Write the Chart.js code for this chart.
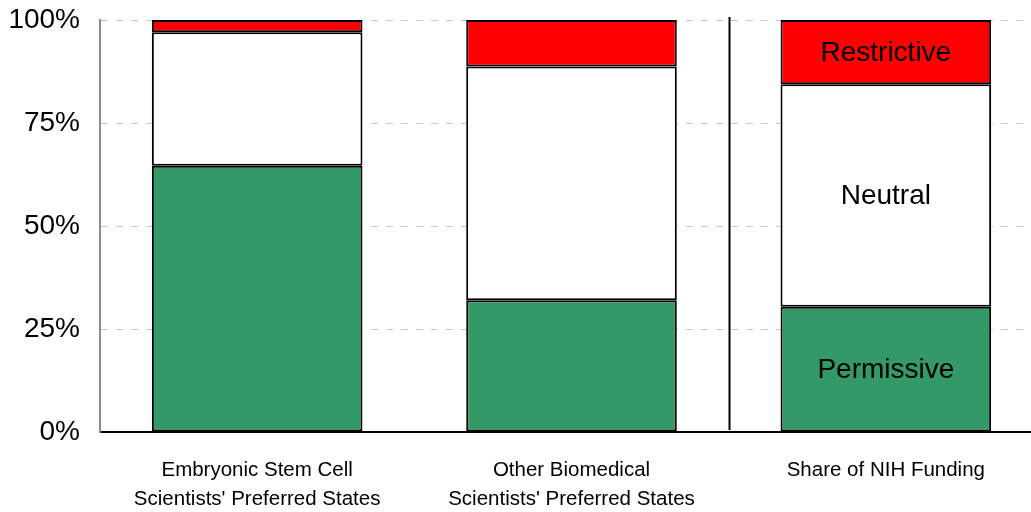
<!DOCTYPE html>
<html>
<head>
<meta charset="utf-8">
<script src="https://cdn.jsdelivr.net/npm/chart.js@4.4.1/dist/chart.umd.min.js"></script>
<style>
  html, body { margin: 0; padding: 0; background: #fff; overflow: hidden; }
  #wrap { width: 1031px; height: 512px; overflow: hidden; position: relative; }
  #box { width: 1043px; height: 512px; position: absolute; left: 0; top: 0; }
</style>
</head>
<body>
<div id="wrap">
  <div id="box"><canvas id="chart"></canvas></div>
</div>
<script>
  const categories = [
    ["Embryonic Stem Cell", "Scientists' Preferred States"],
    ["Other Biomedical", "Scientists' Preferred States"],
    ["Share of NIH Funding"]
  ];
  const permissive  = [64.6, 32.0, 30.4];
  const neutral     = [32.4, 56.7, 54.0];
  const restrictive = [3.0, 11.3, 15.6];
  const segmentNames = ["Permissive", "Neutral", "Restrictive"];
  const yTicks = [0, 25, 50, 75, 100];

  const FONT = "'Liberation Sans', Arial, sans-serif";

  // separator line between 2nd and 3rd bar + labels inside the last bar
  const extras = {
    id: "extras",
    afterDatasetsDraw(chart) {
      const ctx = chart.ctx;
      const x = chart.scales.x;
      const area = chart.chartArea;
      const sepX = Math.round((x.getPixelForValue(1) + x.getPixelForValue(2)) / 2) + 0.5;
      ctx.save();
      ctx.strokeStyle = "#000";
      ctx.lineWidth = 2;
      ctx.beginPath();
      ctx.moveTo(sepX, area.top - 3);
      ctx.lineTo(sepX, area.bottom - 2);
      ctx.stroke();

      ctx.fillStyle = "#000";
      ctx.font = "28px " + FONT;
      ctx.textAlign = "center";
      ctx.textBaseline = "middle";
      const last = categories.length - 1;
      chart.data.datasets.forEach((ds, i) => {
        const bar = chart.getDatasetMeta(i).data[last];
        const midY = (bar.y + bar.base) / 2;
        ctx.fillText(segmentNames[i], bar.x, midY + 1);
      });
      ctx.restore();
    }
  };

  const mkSet = (label, data, color) => ({
    label: label,
    data: data,
    backgroundColor: color,
    borderColor: "#000",
    borderWidth: 2,
    borderSkipped: false,
    barPercentage: 0.67,
    categoryPercentage: 1.0
  });

  new Chart(document.getElementById("chart"), {
    type: "bar",
    data: {
      labels: categories,
      datasets: [
        mkSet(segmentNames[0], permissive, "#339966"),
        mkSet(segmentNames[1], neutral, "#ffffff"),
        mkSet(segmentNames[2], restrictive, "#ff0000")
      ]
    },
    options: {
      responsive: true,
      maintainAspectRatio: false,
      animation: false,
      layout: { padding: { top: 20, right: 0, left: 0, bottom: 0 } },
      plugins: {
        legend: { display: false },
        tooltip: { enabled: false }
      },
      scales: {
        x: {
          stacked: true,
          afterFit(axis) {
            axis.height = 80;
            axis.paddingLeft = 0;
            axis.paddingRight = 0;
          },
          grid: { display: false },
          border: { display: true, color: "#000", width: 2 },
          ticks: {
            color: "#000",
            padding: 16,
            maxRotation: 0,
            autoSkip: false,
            font: { family: FONT, size: 20.5, lineHeight: 1.42 }
          }
        },
        y: {
          stacked: true,
          min: 0,
          max: 100,
          afterBuildTicks(axis) {
            axis.ticks = yTicks.map(v => ({ value: v }));
          },
          afterFit(axis) {
            axis.width = 100;
            axis.paddingTop = 0;
            axis.paddingBottom = 0;
          },
          grid: {
            color: ctx => ctx.tick && ctx.tick.value === 0 ? "rgba(0,0,0,0)" : "#c8c8c8",
            drawTicks: false,
            lineWidth: 1
          },
          border: { display: true, color: "#8c8c8c", width: 2, dash: [7, 8] },
          ticks: {
            color: "#000",
            padding: 20,
            callback: v => v + "%",
            font: { family: FONT, size: 28 }
          }
        }
      }
    },
    plugins: [extras]
  });
</script>
</body>
</html>
